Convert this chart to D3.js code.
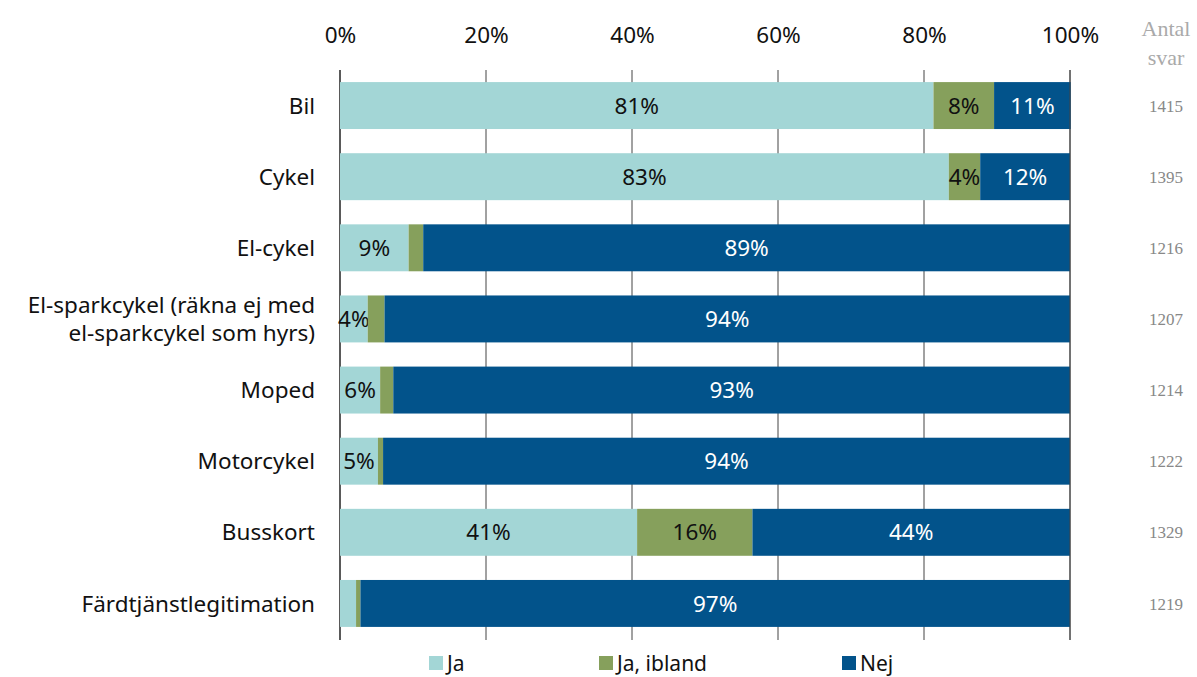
<!DOCTYPE html>
<html><head><meta charset="utf-8">
<script src="https://cdn.jsdelivr.net/npm/d3@7/dist/d3.min.js"></script>
<style>body{margin:0;background:#fff}svg{display:block}</style>
</head><body><svg id="c" width="1197" height="677"></svg>
<script>
const categories = ["Bil","Cykel","El-cykel","El-sparkcykel (räkna ej med|el-sparkcykel som hyrs)","Moped","Motorcykel","Busskort","Färdtjänstlegitimation"];
const seriesNames = ["Ja","Ja, ibland","Nej"];
const ja     = [81.3, 83.4, 9.4, 3.8, 5.5, 5.2, 40.7, 2.2];
const ibland = [8.3, 4.3, 2.0, 2.3, 1.8, 0.7, 15.8, 0.6];
const nej    = [10.5, 12.3, 88.6, 93.9, 92.7, 94.1, 43.5, 97.2];
const antal  = [1415, 1395, 1216, 1207, 1214, 1222, 1329, 1219];
const ticks  = [0, 20, 40, 60, 80, 100];
const colors = ["#a3d6d6", "#86a05c", "#02538b"];
const labelColors = ["#111", "#111", "#fff"];

const svg = d3.select("#c");
const font = "Noto Sans, sans-serif";
const fs = 22.5;
const x = d3.scaleLinear().domain([0,100]).range([340,1070]);
const y = d3.scaleBand().domain(categories).range([70,639]).paddingInner(0.34).paddingOuter(0.17);

// gridlines
svg.append("g").selectAll("line").data(ticks).join("line")
  .attr("x1", d=>x(d)).attr("x2", d=>x(d)).attr("y1", 70).attr("y2", 640)
  .attr("stroke", d=> d===0 ? "#000" : "#444").attr("stroke-width", d=>d===0?1.3:1);

// top axis labels
const xa = svg.append("g").attr("transform","translate(0,46)")
  .call(d3.axisTop(x).tickValues(ticks).tickSize(0).tickFormat(d=>d+"%"));
xa.select(".domain").remove();
xa.selectAll("text").attr("font-family", font).attr("font-size", fs).attr("fill","#111").attr("dy",0);

const stack = d3.stack().keys([0,1,2]).value((d,k)=>d[k]);
const rows = categories.map((c,i)=>{ const r=[ja[i],ibland[i],nej[i]]; r.cat=c; return r; });
const layers = stack(rows);

layers.forEach((layer,k)=>{
  const g = svg.append("g");
  g.selectAll("rect").data(layer).join("rect")
    .attr("x", d=>x(d[0])).attr("width", d=>x(d[1])-x(d[0]))
    .attr("y", d=>y(d.data.cat)).attr("height", y.bandwidth())
    .attr("fill", colors[k]);
  g.selectAll("text").data(layer.filter(d=>d[1]-d[0]>=3)).join("text")
    .attr("x", d=>(x(d[0])+x(d[1]))/2)
    .attr("y", d=>y(d.data.cat)+y.bandwidth()/2)
    .attr("dy","0.36em").attr("text-anchor","middle")
    .attr("font-family", font).attr("font-size", fs).attr("fill", labelColors[k])
    .text(d=>Math.round(d[1]-d[0])+"%");
});
// right edge line
svg.append("line").attr("x1",x(100)).attr("x2",x(100)).attr("y1",70).attr("y2",640).attr("stroke","#444");

// category labels
const cl = svg.append("g").selectAll("text").data(categories).join("text")
  .attr("x", 315).attr("text-anchor","end")
  .attr("font-family", font).attr("font-size", fs).attr("fill","#111");
cl.each(function(d){
  const parts = d.split("|");
  const yc = y(d)+y.bandwidth()/2;
  const t = d3.select(this);
  parts.forEach((p,i)=>{
    t.append("tspan").attr("x",315)
      .attr("y", yc + (i-(parts.length-1)/2)*28).attr("dy","0.36em").text(p);
  });
});

// Antal svar
const serif = "Liberation Serif, Times New Roman, serif";
svg.append("text").attr("x",1166).attr("y",36).attr("text-anchor","middle")
  .attr("font-family",serif).attr("font-size",22).attr("fill","#aaa").text("Antal");
svg.append("text").attr("x",1166).attr("y",65).attr("text-anchor","middle")
  .attr("font-family",serif).attr("font-size",22).attr("fill","#aaa").text("svar");
svg.append("g").selectAll("text").data(antal).join("text")
  .attr("x",1166).attr("y",(d,i)=>y(categories[i])+y.bandwidth()/2).attr("dy","0.36em")
  .attr("text-anchor","middle").attr("font-family",serif).attr("font-size",17).attr("fill","#888")
  .text(d=>d);

// legend
const legX = [429, 599, 842];
const lg = svg.append("g").selectAll("g").data(seriesNames).join("g")
  .attr("transform",(d,i)=>`translate(${legX[i]},656)`);
lg.append("rect").attr("width",14).attr("height",14).attr("fill",(d,i)=>colors[i]);
lg.append("text").attr("x",18).attr("y",7).attr("dy","0.36em")
  .attr("font-family",font).attr("font-size",21).attr("fill","#111").text(d=>d);
</script></body></html>
